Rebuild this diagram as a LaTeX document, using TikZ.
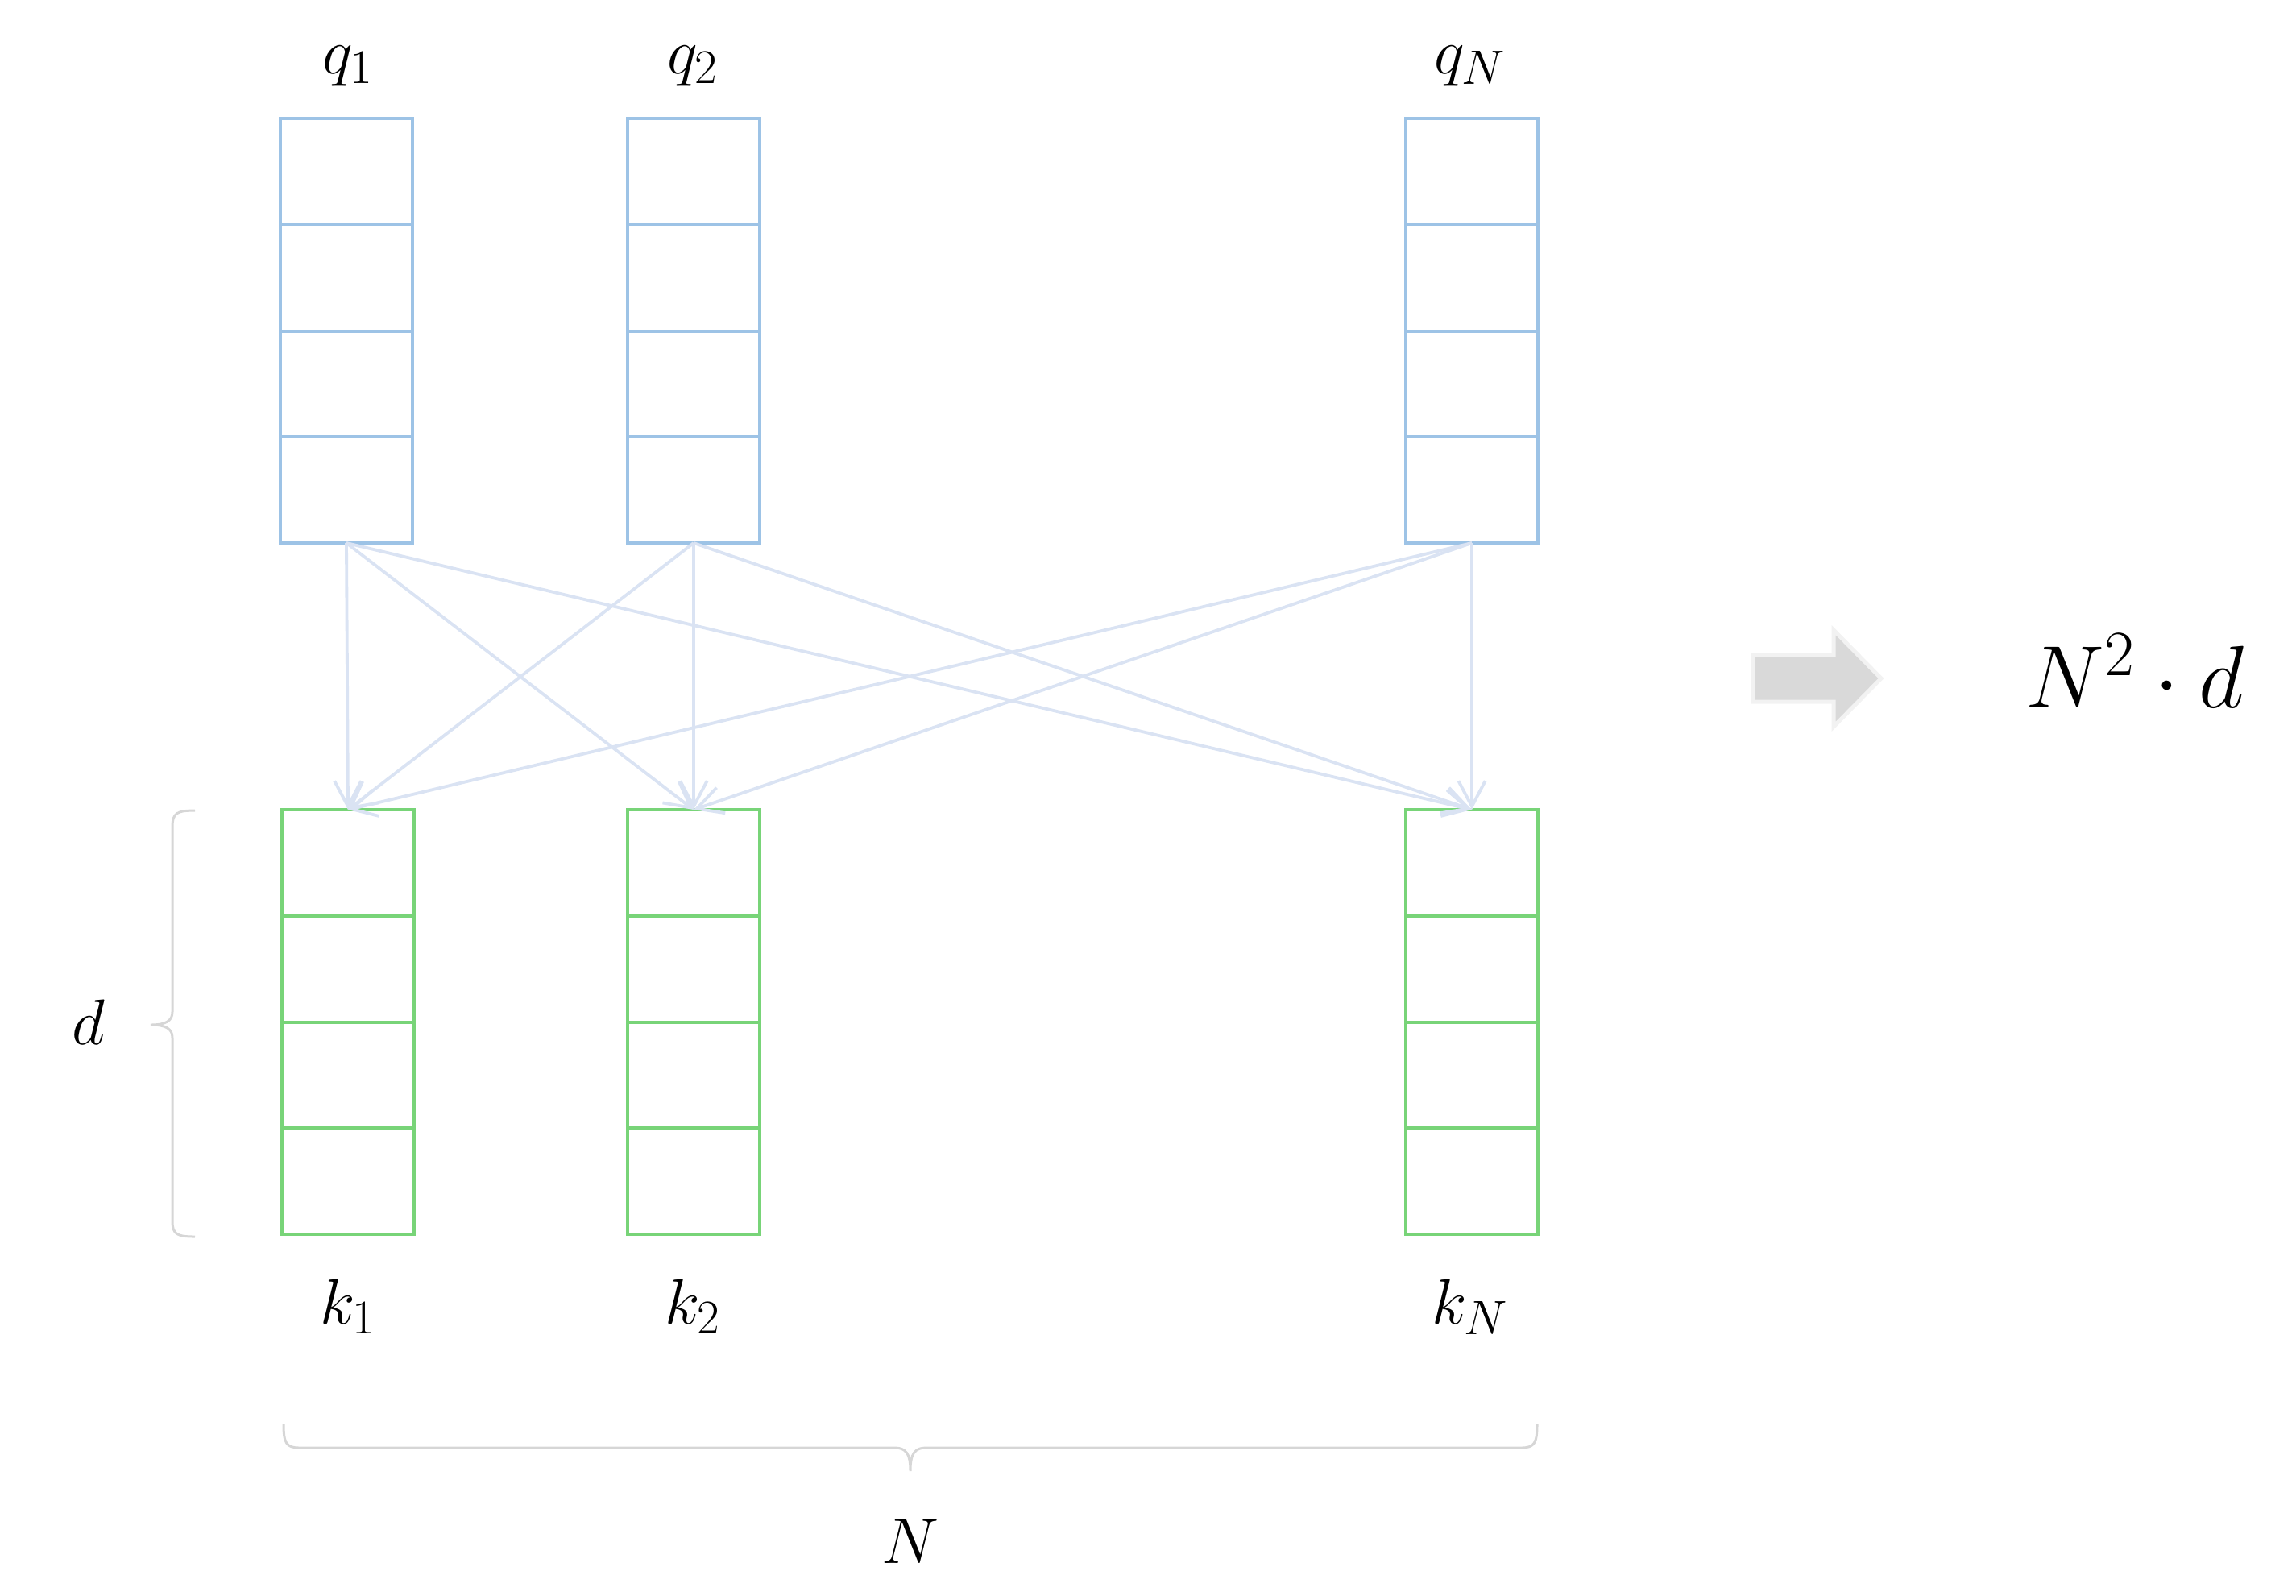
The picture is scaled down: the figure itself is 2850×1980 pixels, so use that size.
\RequirePackage{fix-cm}
\documentclass[tikz,border=0pt]{standalone}
\usetikzlibrary{arrows.meta,calc}
\DeclareMathSizes{24}{24}{18}{14}
\DeclareMathSizes{33}{33}{24}{18}
\definecolor{qblue}{RGB}{157,195,230}
\definecolor{kgreen}{RGB}{120,212,120}
\definecolor{arrowc}{RGB}{218,227,243}
\definecolor{bracec}{RGB}{214,214,214}
\definecolor{bigarrowfill}{RGB}{217,217,217}
\definecolor{bigarrowedge}{RGB}{242,242,242}
\begin{document}
\begin{tikzpicture}[x=0.3pt,y=-0.3pt,
  vec/.style={draw, rectangle, minimum width=49.2pt, minimum height=158.1pt, inner sep=0pt, outer sep=0pt, line width=1.2pt},
  qvec/.style={vec, draw=qblue},
  kvec/.style={vec, draw=kgreen},
  lab/.style={anchor=base, inner sep=0pt, font=\fontsize{24}{29}\selectfont},
  conn/.style={draw=arrowc, line width=1.15pt, -{Straight Barb[length=9.5pt,width=10pt]}},
  bracestyle/.style={draw=bracec, line width=0.9pt}
]
\useasboundingbox (0,0) rectangle (2850,1980);

% vectors
\node[qvec] (q1) at (430,410.5) {};
\node[qvec] (q2) at (861,410.5) {};
\node[qvec] (qN) at (1827,410.5) {};
\node[kvec] (k1) at (432,1268.5) {};
\node[kvec] (k2) at (861,1268.5) {};
\node[kvec] (kN) at (1827,1268.5) {};

\foreach \n/\c in {q1/qblue,q2/qblue,qN/qblue,k1/kgreen,k2/kgreen,kN/kgreen}
  \foreach \f in {0.25,0.5,0.75}
    \draw[\c, line width=1.2pt] ($(\n.north west)!\f!(\n.south west)$) -- ($(\n.north east)!\f!(\n.south east)$);

% connectors
\foreach \a in {q1,q2,qN}
  \foreach \b in {k1,k2,kN}
    \draw[conn] (\a.south) -- (\b.north);

% labels
\node[lab] (lq1) at (432,91) {$q_1$};
\node[lab] (lq2) at (860,91) {$q_2$};
\node[lab] (lqN) at (1825,91) {$q_N$};
\node[lab] (lk1) at (432,1643) {$k_1$};
\node[lab] (lk2) at (860,1643) {$k_2$};
\node[lab] (lkN) at (1825,1643) {$k_N$};
\node[lab] (ld) at (110,1296) {$d$};
\node[lab] (lN) at (1130,1940) {$N$};

% left brace (d)
\draw[bracestyle] (242,1006) .. controls (220,1006) and (214,1009) .. (214,1026)
  -- (214,1256) .. controls (214,1267) and (206,1272) .. (187,1272)
  .. controls (206,1272) and (214,1277) .. (214,1288)
  -- (214,1516) .. controls (214,1532) and (220,1535) .. (242,1535);
% bottom brace (N)
\draw[bracestyle] (352,1767) .. controls (352,1791) and (355,1797) .. (372,1797)
  -- (1110,1797) .. controls (1124,1797) and (1130,1803) .. (1130,1826)
  .. controls (1130,1803) and (1136,1797) .. (1150,1797)
  -- (1888,1797) .. controls (1905,1797) and (1908,1791) .. (1908,1767);

% big arrow and cost
\draw[fill=bigarrowfill, draw=bigarrowedge, line width=1.5pt]
  (2176,813) -- (2276,813) -- (2276,782) -- (2335,842) -- (2276,902) -- (2276,871) -- (2176,871) -- cycle;
\node[anchor=base, inner sep=0pt, font=\fontsize{33}{40}\selectfont] (cost) at (2650,878) {$N^2\cdot d$};
\end{tikzpicture}
\end{document}
